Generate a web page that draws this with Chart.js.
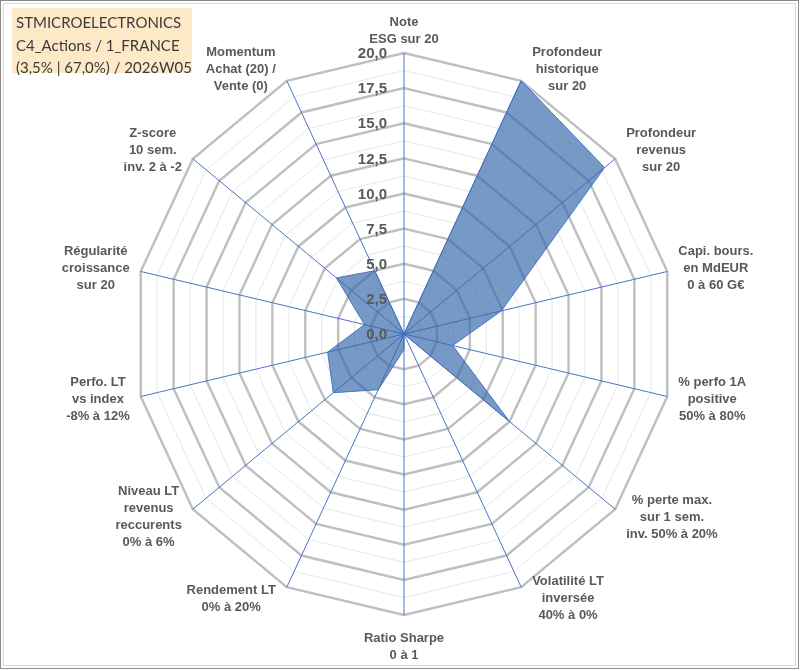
<!DOCTYPE html>
<html>
<head>
<meta charset="utf-8">
<script src="https://cdn.jsdelivr.net/npm/chart.js@4"></script>
<style>
  body { margin: 0; background: #fff; }
  #wrap { position: relative; width: 801px; height: 671px; }
  #info {
    position: absolute; left: 12px; top: 8px; width: 180px; height: 65px;
    background: #fde9c6; color: #3a3a3a;
    font-family: Lato, "Open Sans", sans-serif; font-size: 15px; line-height: 22.5px;
    padding: 3px 0 0 4px; box-sizing: border-box; white-space: nowrap;
  }
</style>
</head>
<body>
<div id="wrap">
  <canvas id="RADAR"></canvas>
  <div id="info">STMICROELECTRONICS<br>C4_Actions / 1_FRANCE<br>(3,5% | 67,0%) / 2026W05</div>
</div>
<script>
var axisLabels = [
    ["Note", "ESG sur 20"],
    ["Profondeur", "historique", "sur 20"],
    ["Profondeur", "revenus", "sur 20"],
    ["Capi. bours.", "en MdEUR", "0 à 60 G€"],
    ["% perfo 1A", "positive", "50% à 80%"],
    ["% perte max.", "sur 1 sem.", "inv. 50% à 20%"],
    ["Volatilité LT", "inversée", "40% à 0%"],
    ["Ratio Sharpe", "0 à 1"],
    ["Rendement LT", "0% à 20%"],
    ["Niveau LT", "revenus", "reccurents", "0% à 6%"],
    ["Perfo. LT", "vs index", "-8% à 12%"],
    ["Régularité", "croissance", "sur 20"],
    ["Z-score", "10 sem.", "inv. 2 à -2"],
    ["Momentum", "Achat (20) /", "Vente (0)"]
];
var notes = [0, 20, 19, 7.4, 3.7, 10, 0, 1.1, 4.4, 6.7, 5.8, 3.0, 6.4, 5.0];
var tickValues = [0, 2.5, 5, 7.5, 10, 12.5, 15, 17.5, 20];

// the excel plot is a bit narrower than tall
var squeezeX = 0.961;
var labelFont = 'bold 13px "Liberation Sans", Arial, sans-serif';
var labelLine = 17;

var framePlugin = {
    id: 'frame',
    beforeDraw: function (chart) {
        var c = chart.ctx, s = chart.scales.r;
        c.save();
        c.fillStyle = '#fff';
        c.fillRect(0, 0, chart.width, chart.height);
        c.strokeStyle = '#8c8c8c';
        c.lineWidth = 1;
        c.strokeRect(0.5, 0.5, chart.width - 3, chart.height - 3);
        c.strokeStyle = '#d9d9d9';
        c.strokeRect(3.5, 3.5, chart.width - 9, chart.height - 9);
        c.restore();
        // squeeze grid + polygon horizontally
        c.save();
        c.translate(s.xCenter, 0);
        c.scale(squeezeX, 1);
        c.translate(-s.xCenter, 0);
    },
    afterDatasetsDraw: function (chart) {
        var s = chart.scales.r, c = chart.ctx;
        c.restore();
        c.save();
        // tick labels
        c.font = 'bold 15px "Liberation Sans", Arial, sans-serif';
        c.fillStyle = '#595959';
        c.textAlign = 'right';
        c.textBaseline = 'middle';
        tickValues.forEach(function (v) {
            var d = s.getDistanceFromCenterForValue(v);
            c.fillText(v.toFixed(1).replace('.', ','), s.xCenter - 17, s.yCenter - d + 1);
        });
        // axis labels, centred lines like excel
        c.font = labelFont;
        c.textAlign = 'center';
        var R = s.drawingArea;
        axisLabels.forEach(function (lines, i) {
            var p = s.getPointPosition(i, R);
            var ux = (p.x - s.xCenter) / R, uy = (p.y - s.yCenter) / R;
            var vx = s.xCenter + (p.x - s.xCenter) * squeezeX, vy = p.y;
            var w = 0;
            lines.forEach(function (t) { w = Math.max(w, c.measureText(t).width); });
            var h = lines.length * labelLine;
            var mx, top;
            if (Math.abs(ux) < 0.01) {
                mx = vx;
                top = uy < 0 ? vy - 5 - h : vy + 15;
            } else {
                mx = ux > 0 ? vx + 11 + w / 2 : vx - 11 - w / 2;
                top = vy + uy * 13 - h / 2;
            }
            lines.forEach(function (t, k) {
                c.fillText(t, mx, top + labelLine * (k + 0.5));
            });
        });
        c.restore();
    }
};

var ctxRadar = document.getElementById('RADAR').getContext('2d');
var radar = new Chart(ctxRadar, {
    type: 'radar',
    data: {
        labels: axisLabels,
        datasets: [{
            label: 'STMICROELECTRONICS',
            data: notes,
            backgroundColor: 'rgba(55, 105, 170, 0.68)',
            borderColor: '#4472c4',
            borderWidth: 1,
            pointRadius: 0,
            fill: true
        }]
    },
    options: {
        responsive: true,
        maintainAspectRatio: false,
        animation: false,
        layout: { padding: { left: 60, right: 53, top: 53, bottom: 56 } },
        plugins: { legend: { display: false }, tooltip: { enabled: false } },
        scales: {
            r: {
                min: 0,
                max: 20,
                ticks: { stepSize: 1.25, display: false },
                grid: {
                    color: function (ctx) {
                        return (ctx.tick && ctx.tick.value % 2.5 === 0) ? '#bfbfbf' : '#e6e6e6';
                    },
                    lineWidth: function (ctx) {
                        return (ctx.tick && ctx.tick.value % 2.5 === 0) ? 2.5 : 1;
                    }
                },
                angleLines: { color: '#4472c4', lineWidth: 1 },
                pointLabels: { display: false }
            }
        }
    },
    plugins: [framePlugin]
});
</script>
</body>
</html>
